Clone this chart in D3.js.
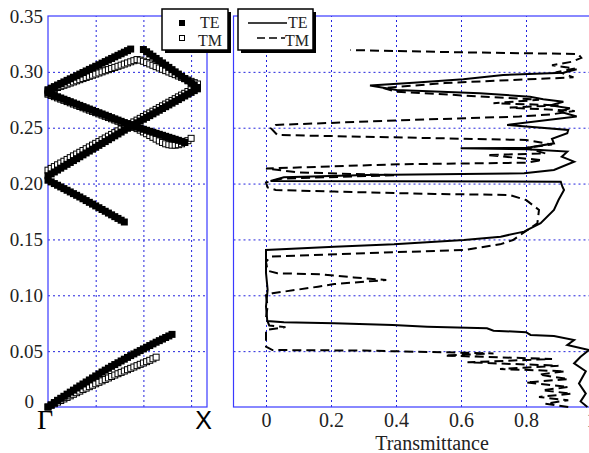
<!DOCTYPE html>
<html>
<head>
<meta charset="utf-8">
<script src="https://cdn.jsdelivr.net/npm/d3@7"></script>
<style>
  body { margin: 0; background: #fff; }
  svg { display: block; }
</style>
</head>
<body>
<div id="chart"></div>
<script>
// ---- data ----
const freqTicks = [0, 0.05, 0.10, 0.15, 0.20, 0.25, 0.30, 0.35];
const transTicks = [0, 0.2, 0.4, 0.6, 0.8, 1];
const kGridLines = [0.15, 0.30, 0.45];

// wave vector samples from Γ (0) towards X (0.5)
const kGrid = [0, 0.01, 0.02, 0.03, 0.04, 0.05, 0.06, 0.07, 0.08, 0.09,
  0.10, 0.11, 0.12, 0.13, 0.14, 0.15, 0.16, 0.17, 0.18, 0.19,
  0.20, 0.21, 0.22, 0.23, 0.24, 0.25, 0.26, 0.27, 0.28, 0.29,
  0.30, 0.31, 0.32, 0.33, 0.34, 0.35, 0.36, 0.37, 0.38, 0.39,
  0.40, 0.41, 0.42, 0.43, 0.44, 0.45, 0.46, 0.47];

// TE bands (normalized frequency)
const teBand1 = [0, .002, .004, .006, .0078, .0096, .0115, .0133, .0151, .017, .0188, .0206, .0224, .0242, .026, .0278,
  .0296, .0313, .033, .0347, .0364, .038, .0396, .0412, .0428, .0444, .046, .0475, .049, .0505, .052, .0535, .055,
  .0565, .058, .0594, .0608, .0622, .0636, .065];
const teBand2 = [.203, .2015, .2, .1985, .197, .1955, .194, .1925, .191, .1895, .188, .1864, .1848, .1832, .1816, .18,
  .1784, .1768, .1752, .1736, .172, .1704, .1688, .1672, .1656];
const teBand3 = [.207, .2087, .2104, .2121, .2138, .2155, .2172, .2189, .2206, .2223, .224, .2257, .2274, .2291, .2308,
  .2325, .2342, .2359, .2376, .2393, .241, .2427, .2444, .2461, .2478, .2495, .2512, .2528, .2544, .256, .2576, .2592,
  .2608, .2624, .264, .2656, .2672, .2688, .2704, .272, .2736, .2752, .2768, .2784, .28, .2816, .2832, .2848];
const teBand4 = [.281, .2799, .2788, .2777, .2766, .2755, .2744, .2733, .2722, .2711, .27, .2689, .2678, .2667, .2656,
  .2645, .2634, .2623, .2612, .2601, .259, .2579, .2568, .2557, .2546, .2535, .2524, .2513, .2504, .2495, .2486, .2477,
  .2468, .2459, .245, .2441, .2432, .2423, .2414, .2405, .2396, .2387, .2378, .2369];
const teBand5 = [.284, .2854, .2868, .2882, .2896, .291, .2924, .2938, .2952, .2966, .298, .2994, .3008, .3022, .3036,
  .305, .3064, .3078, .3092, .3106, .312, .3134, .3148, .3162, .3176, .319, .3204];
const teBand6 = [.32, .318, .316, .314, .312, .31, .308, .306, .304, .302, .3, .298, .296, .294, .292, .29, .288, .286];

// TM bands
const tmBand1 = [0, .0015, .003, .0044, .0058, .0072, .0086, .01, .0114, .0128, .0142, .0156, .0169, .0182, .0195,
  .0208, .0221, .0234, .0247, .026, .0273, .0286, .0298, .031, .0322, .0334, .0346, .0358, .037, .0382, .0394, .0406,
  .0418, .0432, .0446];
const tmBand3 = [.212, .2136, .2152, .2168, .2184, .22, .2216, .2232, .2248, .2264, .228, .2296, .2312, .2328, .2344,
  .236, .2376, .2392, .2408, .2424, .244, .2456, .2472, .2488, .2504, .252, .2536, .2552, .2568, .2584, .26, .2616,
  .2632, .2648, .2664, .268, .2696, .2712, .2728, .2744, .276, .2776, .2792, .2808, .2824, .284, .2856];
const tmBand4 = [.280, .2789, .2778, .2767, .2756, .2745, .2734, .2723, .2712, .2701, .269, .2679, .2668, .2657, .2646,
  .2635, .2624, .2613, .2602, .2591, .258, .2569, .2558, .2547, .2536, .2525, .2514, .2503, .2492, .2478, .2462, .2446,
  .243, .2414, .2398, .2382, .2368, .2356, .2348, .2344, .2344, .2348, .2356, .2368, .2384, .2405];
const tmBand5 = [.283, .284, .285, .286, .287, .288, .289, .290, .291, .292, .293, .294, .295, .296, .297, .298, .299,
  .300, .301, .302, .303, .304, .305, .306, .307, .308, .309, .310, .311];
const tmBand6 = [.3105, .3095, .3083, .3071, .3059, .3047, .3035, .3023, .3011, .2999, .2987, .2975, .2963, .2951,
  .2939, .2927, .2915, .2903, .2891];

// [start index in kGrid, frequencies]
const teBands = [[0, teBand1], [0, teBand2], [0, teBand3], [0, teBand4], [0, teBand5], [30, teBand6]];
const tmBands = [[0, tmBand1], [0, tmBand3], [0, tmBand4], [0, tmBand5], [29, tmBand6]];

// transmittance spectra: [transmittance, frequency]
const teTrans = [[0.989, 0.000], [0.968, 0.005], [0.984, 0.012], [0.963, 0.021], [0.984, 0.032], [0.948, 0.039],
  [0.968, 0.045], [0.994, 0.051], [0.927, 0.0555], [0.948, 0.060], [0.886, 0.0635], [0.814, 0.0645], [0.80, 0.067],
  [0.70, 0.0683], [0.68, 0.0704], [0.496, 0.0719], [0.39, 0.0734], [0.21, 0.0749], [0.055, 0.0758], [0.004, 0.077],
  [0.0, 0.09], [0.005, 0.105], [0.0, 0.12], [0.0, 0.1405], [0.21, 0.1435], [0.394, 0.1456], [0.609, 0.1495],
  [0.722, 0.1525], [0.794, 0.157], [0.845, 0.1645], [0.886, 0.1764], [0.90, 0.1853], [0.917, 0.1943], [0.912, 0.1972],
  [0.907, 0.2017], [0.014, 0.2023], [0.055, 0.2056], [0.312, 0.2077], [0.794, 0.2092], [0.886, 0.2122], [0.948, 0.2196],
  [0.91, 0.224], [0.927, 0.2286], [0.804, 0.2307], [0.599, 0.2316], [0.804, 0.232], [0.886, 0.236], [0.88, 0.240],
  [0.927, 0.245], [0.93, 0.248], [0.742, 0.2525], [0.956, 0.260], [0.905, 0.2644], [0.935, 0.2674], [0.874, 0.270],
  [0.915, 0.2733], [0.853, 0.2754], [0.812, 0.2778], [0.658, 0.2808], [0.402, 0.2838], [0.32, 0.2877], [0.453, 0.2903],
  [0.607, 0.2933], [0.73, 0.2972], [0.915, 0.2993], [0.956, 0.3023]];
const tmTrans = [[0.93, 0.000], [0.86, 0.003], [0.93, 0.006], [0.84, 0.009], [0.94, 0.012], [0.85, 0.015], [0.93, 0.018],
  [0.80, 0.022], [0.93, 0.025], [0.84, 0.029], [0.92, 0.032], [0.72, 0.034], [0.90, 0.037], [0.62, 0.040], [0.88, 0.043],
  [0.55, 0.046], [0.70, 0.048], [0.30, 0.0505], [0.02, 0.051], [0.0, 0.054], [0.0, 0.069], [0.06, 0.0715], [0.01, 0.073],
  [0.0, 0.08], [0.005, 0.09], [0.0, 0.10], [0.02, 0.1018], [0.16, 0.1077], [0.21, 0.110], [0.37, 0.1137], [0.27, 0.116],
  [0.17, 0.1188], [0.035, 0.1197], [0.005, 0.122], [0.0, 0.13], [0.014, 0.1346], [0.39, 0.1385], [0.61, 0.1405],
  [0.72, 0.1456], [0.76, 0.1495], [0.79, 0.1555], [0.835, 0.1645], [0.84, 0.1764], [0.80, 0.1853], [0.75, 0.1898],
  [0.52, 0.1907], [0.21, 0.1928], [0.03, 0.1943], [0.005, 0.1965], [0.0, 0.201], [0.05, 0.2045], [0.40, 0.2075],
  [0.10, 0.210], [0.0, 0.2135], [0.41, 0.2173], [0.80, 0.2187], [0.85, 0.221], [0.68, 0.2255], [0.86, 0.227],
  [0.80, 0.232], [0.88, 0.235], [0.80, 0.239], [0.035, 0.2435], [0.015, 0.2495], [0.03, 0.2525], [0.45, 0.257],
  [0.78, 0.260], [0.88, 0.262], [0.95, 0.265], [0.75, 0.268], [0.90, 0.270], [0.70, 0.272], [0.84, 0.275],
  [0.40, 0.2823], [0.36, 0.2855], [0.55, 0.290], [0.946, 0.2951], [0.90, 0.300], [0.95, 0.303], [0.88, 0.306],
  [0.94, 0.309], [0.97, 0.3125], [0.96, 0.316], [0.60, 0.3175], [0.26, 0.3195]];

// ---- layout ----
const width = 589, height = 453;
const serif = '"Liberation Serif", "Times New Roman", serif';
const sans = '"Liberation Sans", Arial, sans-serif';
const frameColor = '#3a3aff';
const gridColor = '#2222dd';

const y = d3.scaleLinear().domain([0, 0.35]).range([407, 16]);
const xk = d3.scaleLinear().domain([0, 0.5]).range([48, 207]);
const xt = d3.scaleLinear().domain([-0.1, 1.0]).range([233.5, 591]);

const svg = d3.select('#chart').append('svg')
  .attr('width', width)
  .attr('height', height);

const dotted = g => g.selectAll('.tick line')
  .attr('stroke', gridColor)
  .attr('stroke-width', 1)
  .attr('stroke-dasharray', '2 3');

// grids
svg.append('g')
  .attr('transform', `translate(${xk(0)},0)`)
  .call(d3.axisLeft(y).tickValues(freqTicks.slice(1, -1)).tickSize(-(xk(0.5) - xk(0))).tickFormat(''))
  .call(g => g.select('.domain').remove())
  .call(dotted);
svg.append('g')
  .attr('transform', `translate(0,${y(0)})`)
  .call(d3.axisBottom(xk).tickValues(kGridLines).tickSize(-(y(0) - y(0.35))).tickFormat(''))
  .call(g => g.select('.domain').remove())
  .call(dotted);
svg.append('g')
  .attr('transform', `translate(${xt(-0.1)},0)`)
  .call(d3.axisLeft(y).tickValues(freqTicks.slice(1, -1)).tickSize(-(width - xt(-0.1))).tickFormat(''))
  .call(g => g.select('.domain').remove())
  .call(dotted);
svg.append('g')
  .attr('transform', `translate(0,${y(0)})`)
  .call(d3.axisBottom(xt).tickValues(transTicks.slice(0, -1)).tickSize(-(y(0) - y(0.35))).tickFormat(''))
  .call(g => g.select('.domain').remove())
  .call(dotted);

// frames
svg.append('rect')
  .attr('x', xk(0)).attr('y', y(0.35))
  .attr('width', xk(0.5) - xk(0)).attr('height', y(0) - y(0.35))
  .attr('fill', 'none').attr('stroke', frameColor).attr('stroke-width', 1.2);
svg.append('rect')
  .attr('x', xt(-0.1)).attr('y', y(0.35))
  .attr('width', xt(1) - xt(-0.1) + 20).attr('height', y(0) - y(0.35))
  .attr('fill', 'none').attr('stroke', frameColor).attr('stroke-width', 1.2);

// tick labels
svg.append('g')
  .attr('transform', `translate(${xk(0)},0)`)
  .call(d3.axisLeft(y).tickValues(freqTicks).tickSize(0).tickPadding(5)
    .tickFormat(d => d === 0 ? '0' : d3.format('.2f')(d)))
  .call(g => g.select('.domain').remove())
  .call(g => g.selectAll('text')
    .attr('dy', d => d === 0 ? '0.05em' : '0.32em')
    .attr('x', d => d === 0 ? -14 : -5)
    .attr('font-family', serif).attr('font-size', 19).attr('fill', '#222'));

svg.append('g')
  .attr('transform', `translate(0,${y(0)})`)
  .call(d3.axisBottom(xt).tickValues(transTicks).tickSize(0)
    .tickFormat(d => (d === 0 || d === 1) ? String(d) : d.toFixed(1)))
  .call(g => g.select('.domain').remove())
  .call(g => g.selectAll('text').attr('y', 20).attr('dy', 0)
    .attr('font-family', serif).attr('font-size', 20).attr('fill', '#222'));

svg.append('text')
  .attr('x', (xt(0) + xt(0.8)) / 2 + 36).attr('y', 450)
  .attr('text-anchor', 'middle')
  .attr('font-family', serif).attr('font-size', 20).attr('fill', '#222')
  .text('Transmittance');

svg.append('text')
  .attr('x', xk(0) - 3).attr('y', 429)
  .attr('text-anchor', 'middle')
  .attr('font-family', serif).attr('font-size', 28)
  .text('Γ');
svg.append('text')
  .attr('x', xk(0.5) - 3.5).attr('y', 429)
  .attr('text-anchor', 'middle')
  .attr('font-family', sans).attr('font-size', 25)
  .text('X');

// band structure markers
const bandPoints = ([start, freqs]) => freqs
  .map((f, i) => [kGrid[start + i], f])
  .filter(d => d[0] !== undefined);

svg.append('g')
  .selectAll('rect')
  .data(tmBands.flatMap(bandPoints))
  .join('rect')
  .attr('x', d => xk(d[0]) - 3)
  .attr('y', d => y(d[1]) - 3)
  .attr('width', 6).attr('height', 6)
  .attr('fill', '#fff').attr('stroke', '#000').attr('stroke-width', 1);

svg.append('g')
  .selectAll('rect')
  .data(teBands.flatMap(bandPoints))
  .join('rect')
  .attr('x', d => xk(d[0]) - 3.5)
  .attr('y', d => y(d[1]) - 3.5)
  .attr('width', 7).attr('height', 7)
  .attr('fill', '#000');

// transmittance curves
const line = d3.line()
  .x(d => xt(d[0]))
  .y(d => y(d[1]));

svg.append('path')
  .datum(teTrans)
  .attr('fill', 'none').attr('stroke', '#000').attr('stroke-width', 2)
  .attr('d', line);
svg.append('path')
  .datum(tmTrans)
  .attr('fill', 'none').attr('stroke', '#000').attr('stroke-width', 2)
  .attr('stroke-dasharray', '9 5')
  .attr('d', line);

// legends
const legendBox = (x, w) => {
  svg.append('rect').attr('x', x + 3).attr('y', 12).attr('width', w).attr('height', 41).attr('fill', '#000');
  svg.append('rect').attr('x', x).attr('y', 9).attr('width', w).attr('height', 41)
    .attr('fill', '#fff').attr('stroke', '#000').attr('stroke-width', 1.5);
};
const legendText = (x, yy, t) => svg.append('text')
  .attr('x', x).attr('y', yy)
  .attr('font-family', serif).attr('font-size', 16).attr('fill', '#222')
  .text(t);

legendBox(162, 66);
svg.append('rect').attr('x', 179).attr('y', 20).attr('width', 6).attr('height', 6).attr('fill', '#000');
svg.append('rect').attr('x', 179.5).attr('y', 35.5).attr('width', 5).attr('height', 5)
  .attr('fill', '#fff').attr('stroke', '#000');
legendText(200, 28, 'TE');
legendText(198, 46, 'TM');

legendBox(238, 75);
svg.append('line').attr('x1', 248).attr('x2', 287).attr('y1', 23).attr('y2', 23)
  .attr('stroke', '#000').attr('stroke-width', 1.5);
svg.append('line').attr('x1', 257).attr('x2', 285).attr('y1', 38).attr('y2', 38)
  .attr('stroke', '#000').attr('stroke-width', 1.5).attr('stroke-dasharray', '8 4');
legendText(288, 28, 'TE');
legendText(285, 46, 'TM');
</script>
</body>
</html>
